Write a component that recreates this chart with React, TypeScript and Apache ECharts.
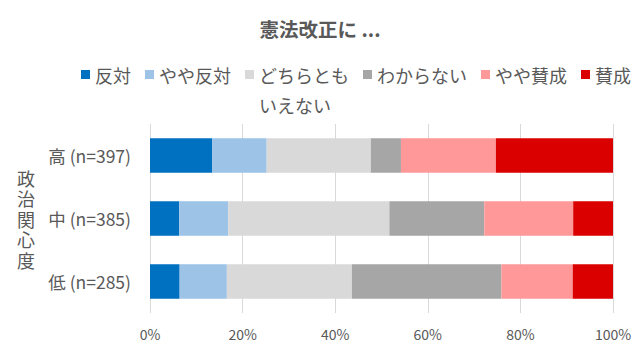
import React, { useEffect, useRef } from "react";
import * as echarts from "echarts";

const categories = ["高 (n=397)", "中 (n=385)", "低 (n=285)"];
const seriesNames = ["反対", "やや反対", "どちらともいえない", "わからない", "やや賛成", "賛成"];
const seriesColors = ["#0070C0", "#9DC3E6", "#D9D9D9", "#A6A6A6", "#FF9999", "#DA0000"];
const oppose = [13.4, 6.3, 6.4];
const somewhatOppose = [11.8, 10.6, 10.2];
const neither = [22.5, 34.8, 27.0];
const dontKnow = [6.5, 20.5, 32.3];
const somewhatFavor = [20.5, 19.2, 15.4];
const favor = [25.3, 8.6, 8.7];
const seriesValues = [oppose, somewhatOppose, neither, dontKnow, somewhatFavor, favor];
const xTicks = [0, 20, 40, 60, 80, 100];

const FONT = "'Noto Sans CJK JP', 'Noto Sans', sans-serif";
const GRAY = "#595959";

export default function App() {
  const ref = useRef<HTMLDivElement>(null);
  useEffect(() => {
    if (!ref.current) return;
    const chart = echarts.init(ref.current, undefined, { renderer: "svg" });
    chart.setOption({
      animation: false,
      textStyle: { fontFamily: FONT },
      title: {
        text: "憲法改正に ...",
        left: "center",
        top: 14,
        textStyle: { fontFamily: FONT, fontSize: 19.5, fontWeight: "bold", color: GRAY },
      },
      legend: {
        left: 81,
        top: 29.5,
        width: 580,
        padding: 0,
        itemWidth: 9,
        itemHeight: 9,
        itemGap: 14,
        icon: "rect",
        textStyle: { fontFamily: FONT, fontSize: 18, color: GRAY, lineHeight: 30 },
        formatter: (n: string) => (n === "どちらともいえない" ? "\nどちらとも\nいえない" : n),
        data: seriesNames,
      },
      grid: { left: 150, right: 27, top: 124, bottom: 43, containLabel: false },
      xAxis: {
        type: "value",
        min: xTicks[0],
        max: xTicks[xTicks.length - 1],
        interval: 20,
        axisLine: { show: false },
        axisTick: { show: false },
        splitLine: { show: true, lineStyle: { color: "#D9D9D9", width: 1 } },
        axisLabel: {
          formatter: "{value}%",
          fontFamily: FONT,
          fontSize: 14,
          color: GRAY,
          margin: 14,
        },
      },
      yAxis: {
        type: "category",
        data: categories,
        inverse: true,
        axisLine: { show: false },
        axisTick: { show: false },
        axisLabel: { fontFamily: FONT, fontSize: 17.5, color: GRAY, margin: 19 },
        name: "政\n治\n関\n心\n度",
        nameLocation: "middle",
        nameRotate: 0,
        nameGap: 115,
        nameTextStyle: { fontFamily: FONT, fontSize: 18, lineHeight: 20.5, color: GRAY },
      },
      series: seriesNames.map((name, i) => ({
        name,
        type: "bar",
        stack: "total",
        barWidth: "55%",
        itemStyle: { color: seriesColors[i] },
        data: seriesValues[i],
      })),
    });
    return () => chart.dispose();
  }, []);
  return (
    <div
      ref={ref}
      style={{ position: "absolute", left: 0, top: 0, width: 640, height: 356 }}
    />
  );
}
